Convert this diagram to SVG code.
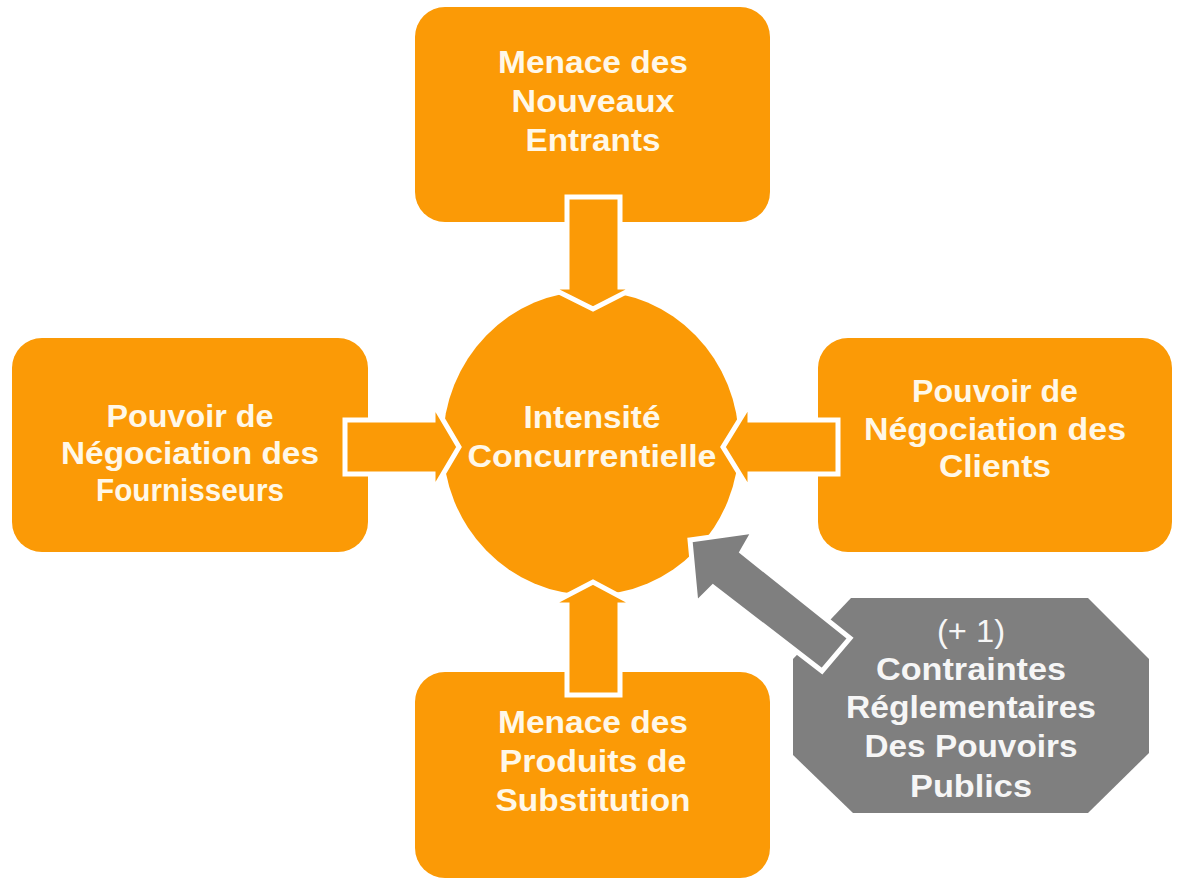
<svg xmlns="http://www.w3.org/2000/svg" width="1181" height="881" viewBox="0 0 1181 881">
<style>
.box{fill:#FB9A06}
.arr{fill:#FB9A06;stroke:#FFFFFF;stroke-width:5;stroke-linejoin:miter}
.garr{fill:#7F7F7F;stroke:#FFFFFF;stroke-width:5;stroke-linejoin:miter}
.oct{fill:#7F7F7F}
text{font-family:"Liberation Sans",Arial,Helvetica,sans-serif;font-weight:bold;font-size:31px;text-anchor:middle;fill:#FFF8E8}
.gt{fill:#F6F6F6}
.thin{font-weight:normal}
</style>
<rect width="1181" height="881" fill="#FFFFFF"/>
<g id="node-top">
<rect class="box" x="415" y="7" width="355" height="215" rx="30"/>
<text x="593" y="73" textLength="190" lengthAdjust="spacingAndGlyphs">Menace des</text>
<text x="593" y="112" textLength="163" lengthAdjust="spacingAndGlyphs">Nouveaux</text>
<text x="593" y="151" textLength="135" lengthAdjust="spacingAndGlyphs">Entrants</text>
</g>
<g id="node-left">
<rect class="box" x="12" y="338" width="356" height="214" rx="30"/>
<text x="190" y="427" textLength="167" lengthAdjust="spacingAndGlyphs">Pouvoir de</text>
<text x="190" y="464" textLength="258" lengthAdjust="spacingAndGlyphs">Négociation des</text>
<text x="190" y="501" textLength="188" lengthAdjust="spacingAndGlyphs">Fournisseurs</text>
</g>
<g id="node-right">
<rect class="box" x="818" y="338" width="354" height="214" rx="30"/>
<text x="995" y="402" textLength="166" lengthAdjust="spacingAndGlyphs">Pouvoir de</text>
<text x="995" y="440" textLength="262" lengthAdjust="spacingAndGlyphs">Négociation des</text>
<text x="995" y="477" textLength="112" lengthAdjust="spacingAndGlyphs">Clients</text>
</g>
<g id="node-bottom">
<rect class="box" x="415" y="672" width="355" height="206" rx="30"/>
</g>
<g id="node-center">
<ellipse class="box" cx="591" cy="443" rx="148" ry="152"/>
</g>
<g id="node-gov">
<polygon class="oct" points="851,598 1088,598 1149,659 1149,753 1088,813 853,813 793,755 793,659"/>
</g>
<g id="connectors">
<polygon class="arr" points="567,197 620,197 620,287 636,287 593,309 549,287 567,287"/>
<polygon class="arr" points="567,695 620,695 620,605 636,605 593,582 549,605 567,605"/>
<polygon class="arr" points="345,420 433,420 433,403 459,447 433,491 433,474 345,474"/>
<polygon class="arr" points="838,420 750,420 750,403 723,447 750,491 750,474 838,474"/>
<polygon class="garr" points="690,540 754,531 742,552 850,638 822,671 713,587 696,604"/>
</g>
<g id="labels">
<text x="592" y="428" textLength="137" lengthAdjust="spacingAndGlyphs">Intensité</text>
<text x="592" y="467" textLength="249" lengthAdjust="spacingAndGlyphs">Concurrentielle</text>
<text x="593" y="733" textLength="190" lengthAdjust="spacingAndGlyphs">Menace des</text>
<text x="593" y="772" textLength="187" lengthAdjust="spacingAndGlyphs">Produits de</text>
<text x="593" y="811" textLength="195" lengthAdjust="spacingAndGlyphs">Substitution</text>
<text class="gt thin" x="971" y="642" textLength="68" lengthAdjust="spacingAndGlyphs">(+ 1)</text>
<text class="gt" x="971" y="680" textLength="190" lengthAdjust="spacingAndGlyphs">Contraintes</text>
<text class="gt" x="971" y="718" textLength="250" lengthAdjust="spacingAndGlyphs">Réglementaires</text>
<text class="gt" x="971" y="757" textLength="213" lengthAdjust="spacingAndGlyphs">Des Pouvoirs</text>
<text class="gt" x="971" y="797" textLength="122" lengthAdjust="spacingAndGlyphs">Publics</text>
</g>
</svg>
